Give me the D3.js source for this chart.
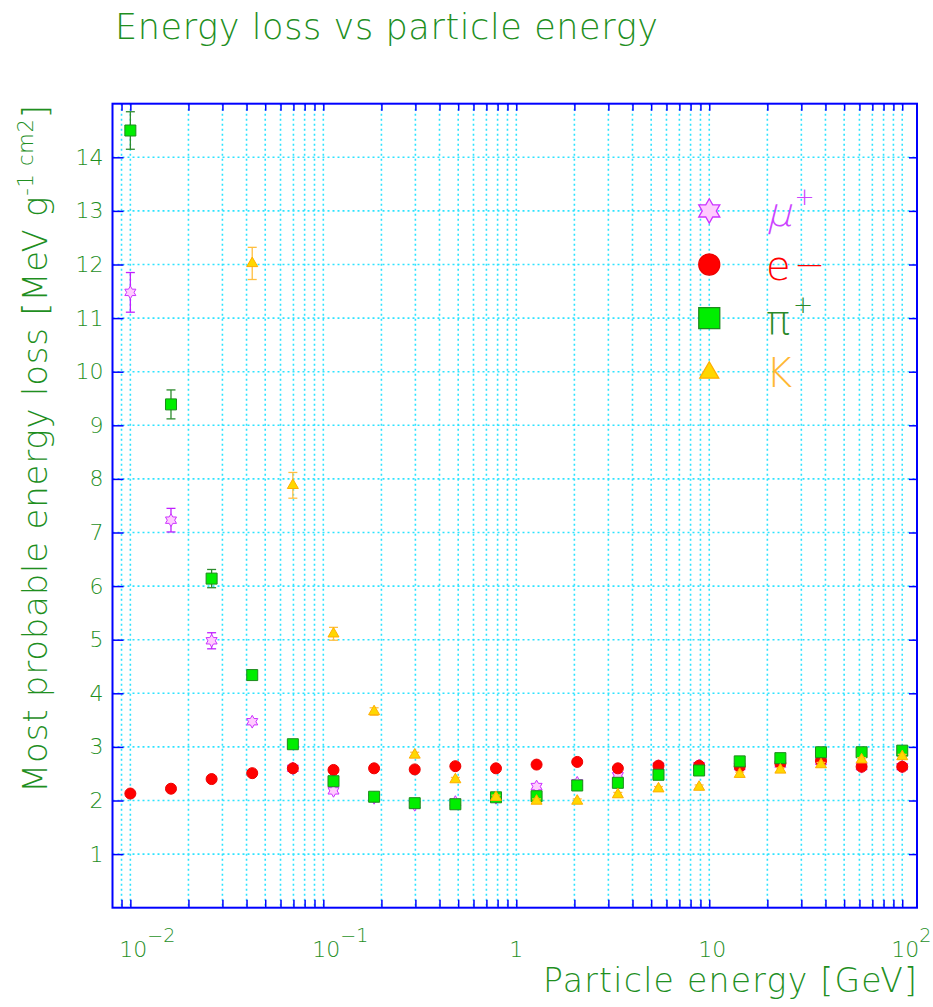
<!DOCTYPE html>
<html><head><meta charset="utf-8">
<script src="https://cdn.jsdelivr.net/npm/d3@7"></script>
<style>
body{margin:0;background:#fff}
svg{display:block}
text{font-family:"DejaVu Sans","Liberation Sans",sans-serif;font-weight:200}
</style>
</head><body>
<svg id="c" width="933" height="1007"></svg>
<script>
// ---------------- data ----------------
const energy      = [0.01, 0.01624, 0.02637, 0.04281, 0.06952, 0.1129, 0.1833, 0.2976, 0.4833, 0.7848,
                     1.274, 2.069, 3.360, 5.456, 8.859, 14.38, 23.36, 37.93, 61.58, 100];
const muonLoss    = [11.48, 7.23, 4.98, 3.47, 2.60, 2.18, 2.05, 1.92, 1.97, 2.05,
                     2.26, 2.33, 2.46, 2.64, 2.65, 2.63, 2.68, 2.73, 2.63, 2.63];
const muonErr     = [0.37, 0.22, 0.15, 0.03, 0.02, 0.02, 0.02, 0.02, 0.02, 0.02,
                     0.02, 0.02, 0.02, 0.02, 0.02, 0.02, 0.02, 0.02, 0.02, 0.02];
const electronLoss= [2.13, 2.22, 2.40, 2.51, 2.60, 2.57, 2.60, 2.58, 2.64, 2.60,
                     2.67, 2.72, 2.60, 2.65, 2.65, 2.63, 2.69, 2.74, 2.63, 2.63];
const electronErr = [0.02, 0.02, 0.02, 0.02, 0.02, 0.02, 0.02, 0.02, 0.02, 0.02,
                     0.02, 0.02, 0.02, 0.02, 0.02, 0.02, 0.02, 0.02, 0.02, 0.02];
const pionLoss    = [14.50, 9.39, 6.14, 4.34, 3.05, 2.36, 2.07, 1.95, 1.93, 2.06,
                     2.08, 2.28, 2.33, 2.48, 2.56, 2.73, 2.79, 2.90, 2.90, 2.93];
const pionErr     = [0.35, 0.27, 0.17, 0.06, 0.04, 0.03, 0.03, 0.03, 0.03, 0.03,
                     0.03, 0.03, 0.03, 0.03, 0.03, 0.03, 0.03, 0.03, 0.03, 0.03];
const kaonLoss    = [null, null, null, 12.02, 7.88, 5.11, 3.66, 2.85, 2.39, 2.06,
                     1.99, 1.99, 2.11, 2.22, 2.25, 2.49, 2.57, 2.67, 2.76, 2.82];
const kaonErr     = [null, null, null, 0.30, 0.24, 0.12, 0.07, 0.05, 0.04, 0.04,
                     0.04, 0.04, 0.04, 0.04, 0.04, 0.04, 0.04, 0.04, 0.04, 0.04];

const xTickValues = [0.01, 0.1, 1, 10, 100];
const xTickBase   = ["10", "10", "1", "10", "10"];
const xTickExp    = ["−2", "−1", "", "", "2"];
const yTickValues = [1, 2, 3, 4, 5, 6, 7, 8, 9, 10, 11, 12, 13, 14];
const legendNames = [["μ", "+"], ["e", "—"], ["π", "+"], ["K", ""]];
const legendValues= [13, 12, 11, 10];
const titleText   = "Energy loss vs particle energy";
const xTitleText  = "Particle energy [GeV]";
const yTitleMain  = "Most probable energy loss [MeV g";
const yTitleSup   = "-1 cm2";
const yTitleEnd   = "]";

// ---------------- layout ----------------
const svg = d3.select("#c");
const L = 112.5, R = 917, T = 103.7, B = 907.7;
const textGreen = "#1f8f1f";
const gridColor = "#2ee3ff";
const frameBlue = "#0000ff";

const x = d3.scaleLog().domain([Math.pow(10, -2.0925), Math.pow(10, 2.0765)]).range([L, R]);
const y = d3.scaleLinear().domain([0, 15]).range([B, T]);

const series = [
  {name:"mu", vals: muonLoss, errs: muonErr, shape:"star", fill:"#ffccff", stroke:"#cc33ff", err:"#c020ff", text:"#cc44ff", skew:-14},
  {name:"e",  vals: electronLoss, errs: electronErr, shape:"circle", fill:"#ff0000", stroke:"#ee0000", err:"#ee0000", text:"#ff0000", skew:0},
  {name:"pi", vals: pionLoss, errs: pionErr, shape:"square", fill:"#00ee00", stroke:"#1e8a1e", err:"#2e8b2e", text:"#2a8a2a", skew:0},
  {name:"K",  vals: kaonLoss, errs: kaonErr, shape:"triangle", fill:"#ffd700", stroke:"#ffae00", err:"#ffbf40", text:"#ffb833", skew:0}
];

function starPath(Rr) {
  const r = Rr / Math.sqrt(3);
  const pts = d3.range(12).map(i => {
    const a = (-90 + i * 30) * Math.PI / 180;
    const rad = i % 2 ? r : Rr;
    return [rad * Math.cos(a), rad * Math.sin(a)];
  });
  return "M" + pts.map(p => p.join(",")).join("L") + "Z";
}
function markerPath(shape, s) {
  if (shape === "star") return starPath(s * 0.58);
  if (shape === "circle") return d3.symbol(d3.symbolCircle, Math.PI * (s / 2) * (s / 2))();
  if (shape === "square") return d3.symbol(d3.symbolSquare, s * s)();
  if (shape === "triangle") return d3.symbol(d3.symbolTriangle, Math.sqrt(3) / 4 * s * s)();
}

// ---------------- grid ----------------
const gridTicks = x.ticks();
const grid = svg.append("g").attr("stroke", gridColor).attr("stroke-width", 1.6)
  .attr("stroke-dasharray", "2 3");
grid.selectAll("line.v").data(gridTicks).join("line").attr("class", "v")
  .attr("x1", d => x(d)).attr("x2", d => x(d)).attr("y1", T).attr("y2", B);
grid.selectAll("line.h").data(yTickValues).join("line").attr("class", "h")
  .attr("x1", L).attr("x2", R).attr("y1", d => y(d)).attr("y2", d => y(d));

// ---------------- axes ticks ----------------
function styleAxis(g) {
  g.select(".domain").remove();
  g.selectAll(".tick line").attr("stroke", frameBlue).attr("stroke-width", 1.5);
}
svg.append("g").attr("transform", `translate(0,${B})`)
  .call(d3.axisBottom(x).tickValues(gridTicks).tickSize(-8).tickFormat("")).call(styleAxis);
svg.append("g").attr("transform", `translate(0,${T})`)
  .call(d3.axisTop(x).tickValues(gridTicks).tickSize(-7).tickFormat("")).call(styleAxis);
const yAx = svg.append("g").attr("transform", `translate(${L},0)`)
  .call(d3.axisLeft(y).tickValues(yTickValues).tickSize(-11).tickPadding(9).tickFormat(d3.format("d")))
  .call(styleAxis);
yAx.selectAll(".tick text").attr("fill", textGreen).style("font-size", "22px")
  .style("font-family", '"DejaVu Sans",sans-serif').style("font-weight", 200);
svg.append("g").attr("transform", `translate(${R},0)`)
  .call(d3.axisRight(y).tickValues(yTickValues).tickSize(-8).tickFormat("")).call(styleAxis);

// x tick labels
const xl = svg.append("g").attr("fill", textGreen);
xTickValues.forEach((v, i) => {
  const off = xTickBase[i].length > 1 ? 3 : 0;
  const t = xl.append("text").attr("x", x(v) + off).attr("y", 957).attr("text-anchor", "middle")
    .style("font-size", "22px").text(xTickBase[i]);
  if (xTickExp[i]) {
    const bw = t.node().getComputedTextLength();
    xl.append("text").attr("x", x(v) + off + bw / 2).attr("y", 942)
      .style("font-size", "19px").text(xTickExp[i]);
  }
});

// frame
svg.append("rect").attr("x", L).attr("y", T).attr("width", R - L).attr("height", B - T)
  .attr("fill", "none").attr("stroke", frameBlue).attr("stroke-width", 2);

// ---------------- data ----------------
const plot = svg.append("g");
series.forEach(s => {
  const pts = energy.map((e, i) => ({e, v: s.vals[i], er: s.errs[i]})).filter(d => d.v != null);
  const eg = plot.append("g").attr("stroke", s.err).attr("stroke-width", 1.3).attr("fill", "none");
  pts.filter(d => d.er).forEach(d => {
    const cx = x(d.e), y1 = y(d.v - d.er), y2 = y(d.v + d.er);
    eg.append("line").attr("x1", cx).attr("x2", cx).attr("y1", y1).attr("y2", y2);
    eg.append("line").attr("x1", cx - 4.5).attr("x2", cx + 4.5).attr("y1", y1).attr("y2", y1);
    eg.append("line").attr("x1", cx - 4.5).attr("x2", cx + 4.5).attr("y1", y2).attr("y2", y2);
  });
  plot.append("g").selectAll("path").data(pts).join("path")
    .attr("d", markerPath(s.shape, 11))
    .attr("transform", d => `translate(${x(d.e)},${y(d.v)})`)
    .attr("fill", s.fill).attr("stroke", s.stroke).attr("stroke-width", 1);
});

// ---------------- legend ----------------
const lg = svg.append("g");
series.forEach((s, i) => {
  const cx = x(10), cy = y(legendValues[i]);
  const big = s.shape === "triangle" ? 19 : 21;
  lg.append("path").attr("d", markerPath(s.shape, big))
    .attr("transform", `translate(${cx},${cy + (s.shape === "triangle" ? 1 : 0)})`)
    .attr("fill", s.fill).attr("stroke", s.stroke).attr("stroke-width", 1.3);
  const base = cy + 15.5;
  const row = lg.append("g").attr("transform", `translate(766,${base})`).attr("fill", s.text);
  const t = row.append("text").attr("x", 0).attr("y", 0)
    .attr("transform", s.skew ? `skewX(${s.skew})` : null)
    .style("font-size", "40px").text(legendNames[i][0]);
  const w = t.node().getComputedTextLength();
  if (legendNames[i][1] === "+") {
    row.append("text").attr("x", w + 3).attr("y", -21)
      .style("font-size", "24px").style("font-weight", 300).text("+");
  } else if (legendNames[i][1]) {
    row.append("text").attr("x", w + 6).attr("y", -7)
      .style("font-size", "26px").style("font-weight", 300).text(legendNames[i][1]);
  }
});

// ---------------- titles ----------------
function fit(sel, target) {
  const n = sel.text().length;
  const w = sel.node().getComputedTextLength();
  sel.attr("letter-spacing", (target - w) / (n - 1));
}
const title = svg.append("text").attr("x", 115).attr("y", 38.5).attr("fill", textGreen)
  .style("font-size", "35px").text(titleText);
fit(title, 543);

const xt = svg.append("text").attr("x", 543).attr("y", 992).attr("fill", textGreen)
  .style("font-size", "33px").text(xTitleText);
fit(xt, 374);

const yt = svg.append("text").attr("transform", "translate(46.7,793) rotate(-90)")
  .attr("fill", textGreen).style("font-size", "34px");
yt.append("tspan").text(yTitleMain);
yt.append("tspan").attr("dy", -14).style("font-size", "21px").text(yTitleSup);
yt.append("tspan").attr("dy", 14).text(yTitleEnd);
fit(yt, 688);
</script>
</body></html>
